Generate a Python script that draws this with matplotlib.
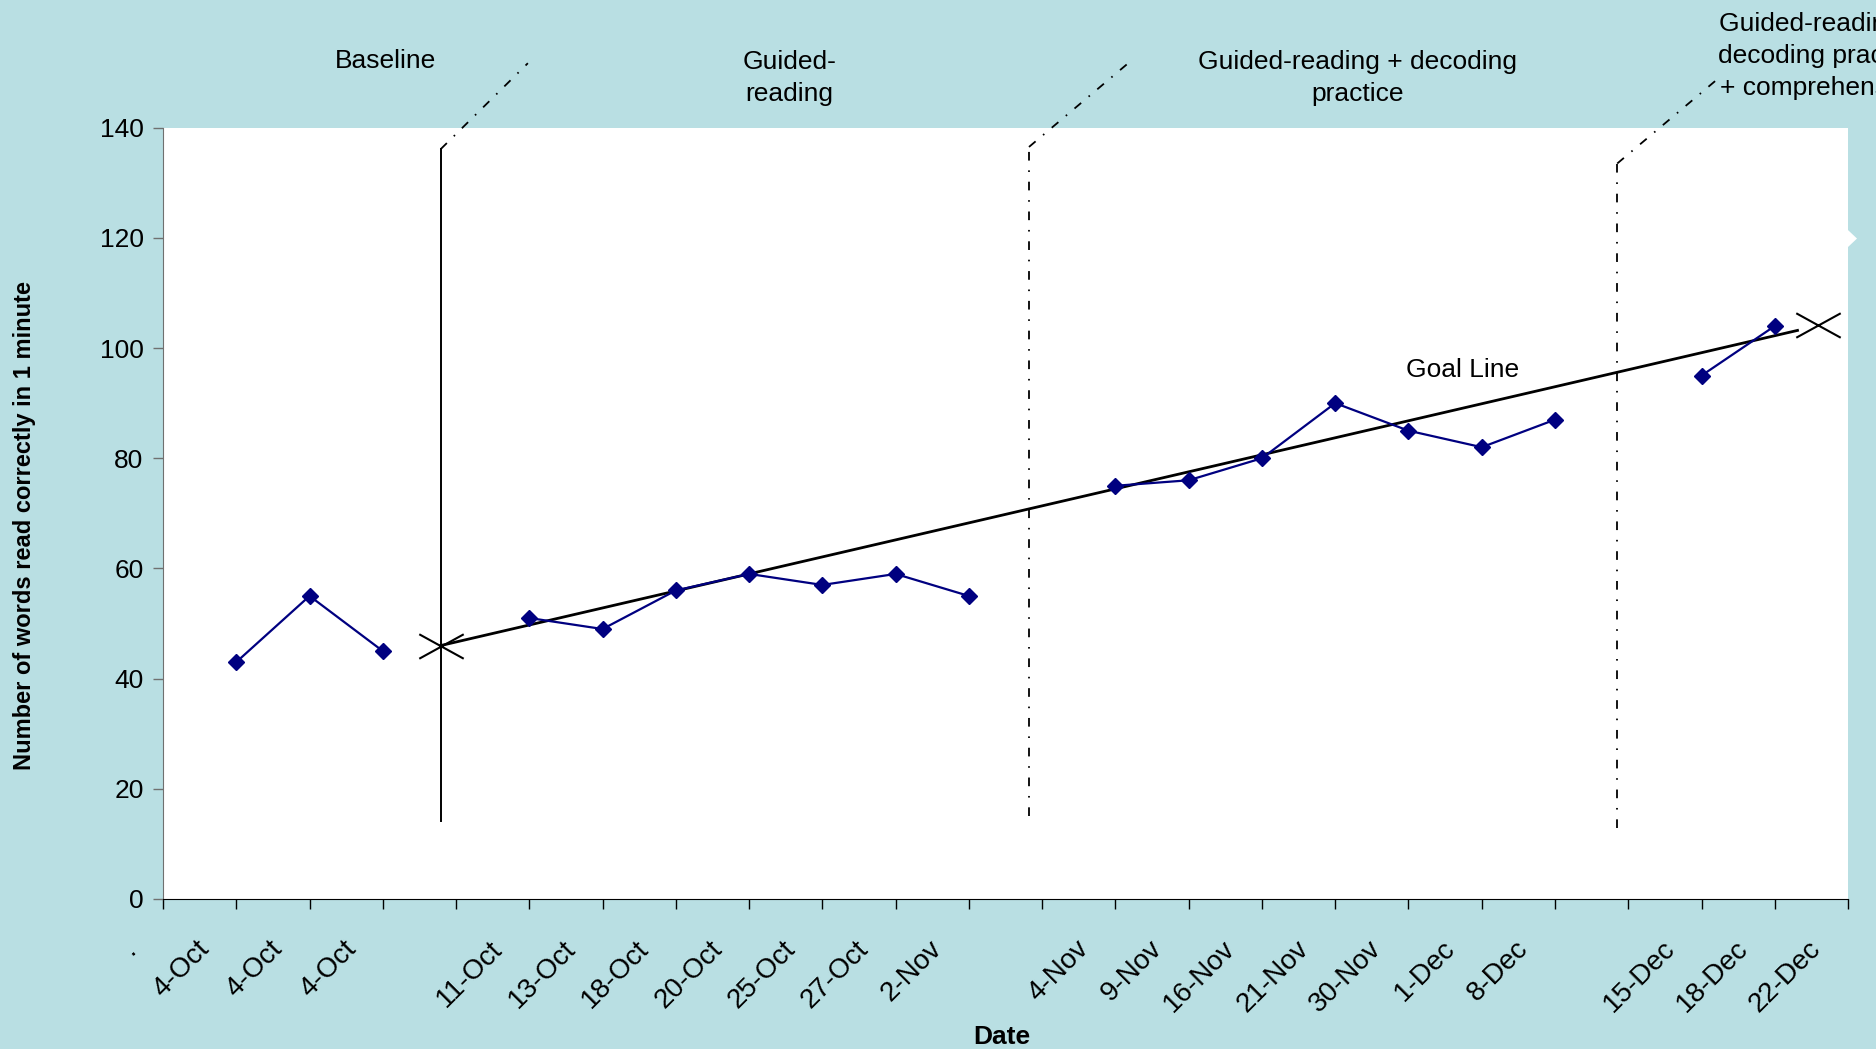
import numpy as np
import matplotlib.pyplot as plt
from matplotlib.path import Path
from matplotlib.transforms import ScaledTranslation, blended_transform_factory
from matplotlib.patches import Polygon

# category axis (one slot per tick, blanks are the phase gaps)
categories = [".", "4-Oct", "4-Oct", "4-Oct", "", "11-Oct", "13-Oct", "18-Oct",
              "20-Oct", "25-Oct", "27-Oct", "2-Nov", "", "4-Nov", "9-Nov",
              "16-Nov", "21-Nov", "30-Nov", "1-Dec", "8-Dec", "", "15-Dec",
              "18-Dec", "22-Dec"]

# words read correctly per session, grouped by phase
baseline_x = [1, 2, 3]
baseline_y = [43, 55, 45]
guided_x = [5, 6, 7, 8, 9, 10, 11]
guided_y = [51, 49, 56, 59, 57, 59, 55]
decoding_x = [13, 14, 15, 16, 17, 18, 19]
decoding_y = [75, 76, 80, 90, 85, 82, 87]
compre_x = [21, 22]
compre_y = [95, 104]

# hand-drawn goal line (start, end) and its end marks
goal_line_x = [3.79, 22.31]
goal_line_y = [46, 103.2]
goal_mark_x = [3.79, 22.59]
goal_mark_y = [46, 104.2]

# phase change lines: vertical part then the leader to the phase title
phase_line_x = [3.79, 11.82, 19.85]
phase_line_bottom = [14.1, 15.0, 12.8]
phase_line_top = [136.1, 136.5, 133.5]
leader_end_x = [4.98, 13.21, 21.19]
leader_end_y = [151.7, 152.1, 148.5]

phase_titles = ["Baseline", "Guided-\nreading", "Guided-reading + decoding\npractice",
                "Guided-reading +\ndecoding practice\n+ comprehension"]
phase_title_x = [3.04, 8.55, 16.31, 22.64]
phase_title_y = [152.1, 149.0, 149.0, 153.0]

bg = "#b9dfe3"
navy = "#000080"
fs = 19

plt.rcParams["font.family"] = ["Liberation Sans", "DejaVu Sans"]

fig = plt.figure(figsize=(18.76, 10.49), dpi=100, facecolor=bg)
ax = fig.add_axes([0.0869, 0.143, 0.8982, 0.7353])
ax.set_facecolor("white")

for xs, ys in [(baseline_x, baseline_y), (guided_x, guided_y),
               (decoding_x, decoding_y), (compre_x, compre_y)]:
    ax.plot(xs, ys, color=navy, lw=1.6, marker="D", ms=8.5, mfc=navy, mec=navy, zorder=4)

# goal line with flattened X marks
ax.plot(goal_line_x, goal_line_y, color="black", lw=2.0, zorder=3)
xmark = Path([(-1, -0.55), (1, 0.55), (-1, 0.55), (1, -0.55)],
             [Path.MOVETO, Path.LINETO, Path.MOVETO, Path.LINETO])
ax.plot(goal_mark_x, goal_mark_y, ls="none", marker=xmark, ms=32, mec="black",
        mew=1.5, clip_on=False, zorder=5)
ax.text(17.74, 96.0, "Goal Line", fontsize=fs, ha="center", va="center")

dashdot = (0, (4.8, 5.4, 0.9, 5.4))
for i in range(3):
    vstyle = "-" if i == 0 else dashdot
    ax.plot([phase_line_x[i], phase_line_x[i]], [phase_line_bottom[i], phase_line_top[i]],
            color="black", lw=1.4 if i == 0 else 1.3, ls=vstyle, clip_on=False, zorder=3)
    ax.plot([phase_line_x[i], leader_end_x[i]], [phase_line_top[i], leader_end_y[i]],
            color="black", lw=1.3, ls=dashdot, clip_on=False, zorder=3)

for t, x, y in zip(phase_titles, phase_title_x, phase_title_y):
    ax.text(x, y, t, fontsize=fs, ha="center", va="center", linespacing=1.4,
            clip_on=False)

ax.set_xlim(0, 23)
ax.set_ylim(0, 140)
ax.set_yticks(np.arange(0, 141, 20))
ax.set_xticks(range(len(categories)))
ax.set_xticklabels([])
ax.tick_params(axis="x", length=7, width=1, color="black")
ax.tick_params(axis="y", length=7, width=1, color="#707070", pad=7, labelsize=fs)

# rotated category labels, upper-right end just left of and below each tick
lab_tr = blended_transform_factory(ax.transData, ax.transAxes) + \
    ScaledTranslation(-0.40, -0.37, fig.dpi_scale_trans)
for i, c in enumerate(categories):
    ax.text(i, 0, c, transform=lab_tr, rotation=45, rotation_mode="anchor",
            ha="right", va="top", fontsize=20, clip_on=False)

for s in ["top", "right"]:
    ax.spines[s].set_visible(False)
ax.spines["left"].set_color("#707070")
ax.spines["bottom"].set_color("black")

fig.text(0.534, 0.011, "Date", fontsize=19, fontweight="bold", ha="center",
         va="center")
fig.text(0.0128, 0.499, "Number of words read correctly in 1 minute", fontsize=17,
         fontweight="bold", rotation=90, ha="center", va="center")

# small notch at the plot area's right edge
fig.patches.append(Polygon([(0.98507, 0.7807), (0.98987, 0.7726), (0.98507, 0.7645)],
                           closed=True, transform=fig.transFigure, fc="white", ec="none"))

fig.savefig("out.png", dpi=100, facecolor=bg)
